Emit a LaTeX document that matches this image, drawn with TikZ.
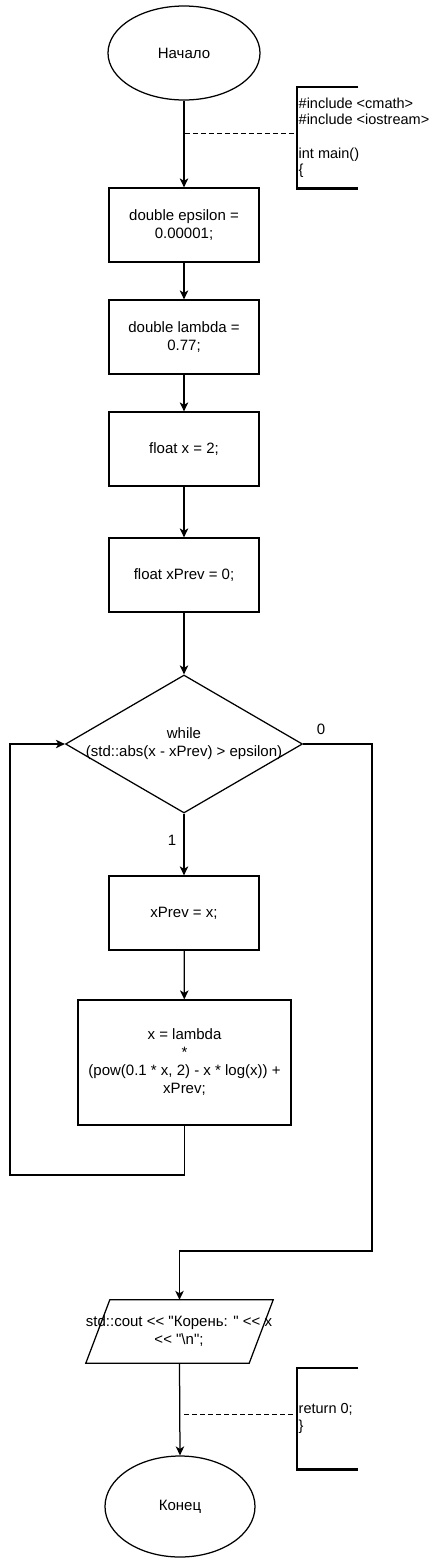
\documentclass[tikz,border=0pt]{standalone}
\usepackage{fontspec}
\newfontfamily\lsf{Liberation Sans}
\usetikzlibrary{shapes.geometric,arrows.meta,calc}
\tikzset{
  every node/.style={font=\lsf\fontsize{15}{18}\selectfont},
  line/.style={line width=1.25pt, draw=black},
  arr/.style={line, -{Stealth[length=9pt,width=8.5pt,inset=2.5pt]}},
  proc/.style={line, rectangle, minimum width=150pt, minimum height=74pt, align=center, inner sep=2pt},
  term/.style={line, ellipse, inner sep=0pt},
  bracketbox/.style={minimum width=61pt, minimum height=101pt, anchor=north west, inner sep=0pt},
  commenttext/.style={anchor=west, align=left, inner sep=1.5pt, font=\lsf\fontsize{14.5}{16.6}\selectfont},
  brk/.style={line width=2.5pt, draw=black},
  dsh/.style={line width=1pt, dash pattern=on 4.5pt off 3.5pt},
  lbl/.style={inner sep=0pt}
}
\begin{document}
\begin{tikzpicture}[x=1pt,y=-1pt]
\useasboundingbox (0,0) rectangle (435,1558);

\node[term, minimum width=152pt, minimum height=94pt] (start) at (184,53) {Начало};
\node[proc] (b1) at (184,225) {double epsilon =\\0.00001;};
\node[proc] (b2) at (184,337) {double lambda =\\0.77;};
\node[proc] (b3) at (184,449) {float x = 2;};
\node[proc] (b4) at (184,575) {float xPrev = 0;};
\node[line, diamond, minimum width=237pt, minimum height=138pt, inner sep=0pt] (d) at (184,744) {};
\node[align=center, inner sep=0pt] (dt) at (184,743.5) {while\\(std::abs(x - xPrev) > epsilon)};
\node[proc] (b5) at (184,913) {xPrev = x;};
\node[proc, minimum width=213pt, minimum height=125pt] (b6) at (184.5,1062.5) {x = lambda\\*\\(pow(0.1 * x, 2) - x * log(x)) +\\xPrev;};
\node[minimum width=187pt, minimum height=63pt, inner sep=0pt] (p) at (179.5,1331.5) {};
\draw[line] ($(p.north west)+(24,0)$) -- (p.north east) -- ($(p.south east)-(24,0)$) -- (p.south west) -- cycle;
\node[align=center, inner sep=0pt] (pt) at (179,1331) {std::cout << "Корень: " << x\\<< "\textbackslash n";};
\node[term, minimum width=150pt, minimum height=101pt] (end) at (180,1506.5) {Конец};

% comment brackets
\node[bracketbox] (c1) at (297,87) {};
\draw[brk] (c1.north east) -- (c1.north west) -- (c1.south west) -- (c1.south east);
\node[commenttext] (c1t) at (c1.west) {\#include <cmath>\\\#include <iostream>\\[16.6pt]int main()\\\{};
\node[bracketbox] (c2) at (297,1368) {};
\draw[brk] (c2.north east) -- (c2.north west) -- (c2.south west) -- (c2.south east);
\node[commenttext] (c2t) at (c2.west) {return 0;\\\}};
\coordinate (k1) at (185,133);
\coordinate (k2) at (184,1414);
\draw[dsh] (k1) -- (k1 -| c1.west);
\draw[dsh] (k2) -- (k2 -| c2.west);

% connectors
\draw[arr] (start.south) -- (b1.north);
\draw[arr] (b1) -- (b2);
\draw[arr] (b2) -- (b3);
\draw[arr] (b3) -- (b4);
\draw[arr] (b4.south) -- (d.north);
\draw[arr] (d.south) -- (b5.north);
\draw[arr] (b5) -- (b6);
\coordinate (lb) at (10,1175);
\draw[arr] (b6.south) |- (lb) |- (d.west);
\coordinate (rb) at (372,1251);
\draw[arr] (d.east) -| (rb) -| (p.north);
\draw[arr] (p.south) -- (end.north);

\node[lbl] (l0) at (321,729) {0};
\node[lbl] (l1) at (172,840) {1};
\end{tikzpicture}
\end{document}
